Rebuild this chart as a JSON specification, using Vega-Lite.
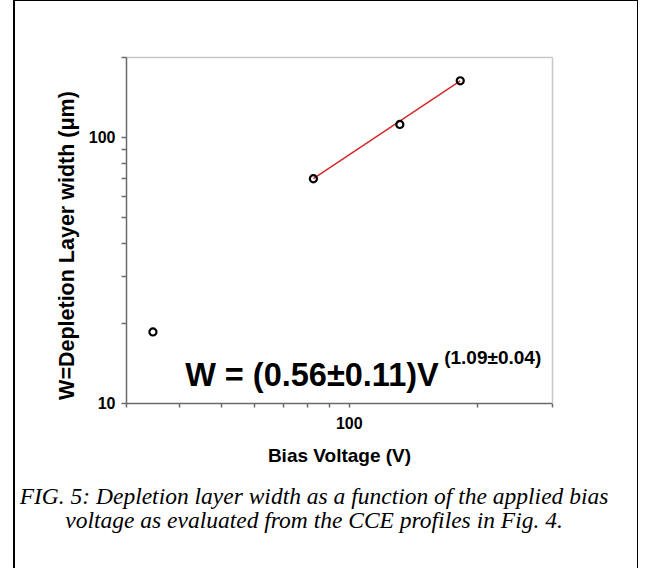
{
  "$schema": "https://vega.github.io/schema/vega-lite/v6.json",
  "autosize": {"type": "none"},
  "padding": {"left": 14, "top": 0, "right": 0, "bottom": 0},
  "width": 624,
  "height": 572,
  "background": "white",
  "config": {
    "view": {"stroke": "black", "strokeWidth": 2},
    "axis": {
      "grid": false,
      "labelFont": "Liberation Sans",
      "labelFontWeight": "bold",
      "labelColor": "black",
      "titleFont": "Liberation Sans",
      "titleFontWeight": "bold",
      "titleColor": "black"
    }
  },
  "title": {
    "text": [
      "FIG. 5: Depletion layer width as a function of the applied bias",
      "voltage as evaluated from the CCE profiles in Fig. 4."
    ],
    "orient": "bottom",
    "anchor": "middle",
    "frame": "group",
    "font": "Liberation Serif",
    "fontSize": 23.5,
    "fontStyle": "italic",
    "fontWeight": "normal",
    "color": "black",
    "lineHeight": 24,
    "offset": -87,
    "dx": -12
  },
  "datasets": {
    "pts": [
      {"V": 34.7, "W": 18.5},
      {"V": 82.6, "W": 69.7},
      {"V": 131.8, "W": 111.5},
      {"V": 182.7, "W": 162.8}
    ],
    "fit": [
      {"V": 82.6, "W": 69.7},
      {"V": 182.7, "W": 162.8}
    ],
    "eq": [
      {"V": 41.3, "W": 11.54, "label": "W = (0.56±0.11)V"}
    ],
    "sup": [
      {"V": 167.5, "W": 14.05, "label": "(1.09±0.04)"}
    ]
  },
  "layer": [
    {
      "data": {"name": "fit"},
      "mark": {"type": "line", "color": "#d42a2a", "strokeWidth": 1.5},
      "encoding": {
        "x": {
          "field": "V", "type": "quantitative",
          "scale": {"type": "log", "domain": [30, 300], "range": [112, 538], "nice": false},
          "axis": {"orient": "top", "offset": -57, "ticks": false, "labels": false, "title": null, "domainColor": "#c8c8c8", "domainWidth": 1.5}
        },
        "y": {
          "field": "W", "type": "quantitative",
          "scale": {"type": "log", "domain": [10, 200], "range": [403, 57], "nice": false},
          "axis": {"orient": "right", "offset": -86, "ticks": false, "labels": false, "title": null, "domainColor": "#c8c8c8", "domainWidth": 1.5}
        }
      }
    },
    {
      "data": {"name": "pts"},
      "mark": {"type": "point", "shape": "circle", "filled": false, "color": "black", "strokeWidth": 2.2, "size": 50, "opacity": 1},
      "encoding": {
        "x": {
          "field": "V", "type": "quantitative",
          "axis": {
            "orient": "bottom", "offset": -169,
            "values": [30, 40, 50, 60, 70, 80, 90, 100, 200, 300],
            "labelExpr": "datum.value == 100 ? '100' : ''",
            "tickSize": 4, "tickColor": "#6a6a6a", "tickWidth": 1.5,
            "domainColor": "#6a6a6a", "domainWidth": 1.5,
            "labelFontSize": 16, "labelPadding": 8,
            "title": "Bias Voltage (V)", "titleFontSize": 19, "titlePadding": 15
          }
        },
        "y": {
          "field": "W", "type": "quantitative",
          "axis": {
            "orient": "left", "offset": -112,
            "values": [10, 20, 30, 40, 50, 60, 70, 80, 90, 100, 200],
            "labelExpr": "datum.value == 100 ? '100' : datum.value == 10 ? '10' : ''",
            "tickSize": 5, "tickColor": "#6a6a6a", "tickWidth": 1.5,
            "domainColor": "#6a6a6a", "domainWidth": 1.5,
            "labelFontSize": 16, "labelPadding": 6,
            "title": "W=Depletion Layer width (μm)", "titleFontSize": 21.5,
            "titleX": -53, "titleY": 245, "titleBaseline": "alphabetic", "titleAngle": 270, "titleAlign": "center"
          }
        }
      }
    },
    {
      "data": {"name": "eq"},
      "mark": {"type": "text", "font": "Liberation Sans", "fontWeight": "bold", "fontSize": 32.5, "align": "left", "baseline": "alphabetic", "color": "black"},
      "encoding": {
        "x": {"field": "V", "type": "quantitative", "axis": null},
        "y": {"field": "W", "type": "quantitative", "axis": null},
        "text": {"field": "label"}
      }
    },
    {
      "data": {"name": "sup"},
      "mark": {"type": "text", "font": "Liberation Sans", "fontWeight": "bold", "fontSize": 19, "align": "left", "baseline": "alphabetic", "color": "black"},
      "encoding": {
        "x": {"field": "V", "type": "quantitative", "axis": null},
        "y": {"field": "W", "type": "quantitative", "axis": null},
        "text": {"field": "label"}
      }
    }
  ],
  "resolve": {"axis": {"x": "independent", "y": "independent"}}
}
